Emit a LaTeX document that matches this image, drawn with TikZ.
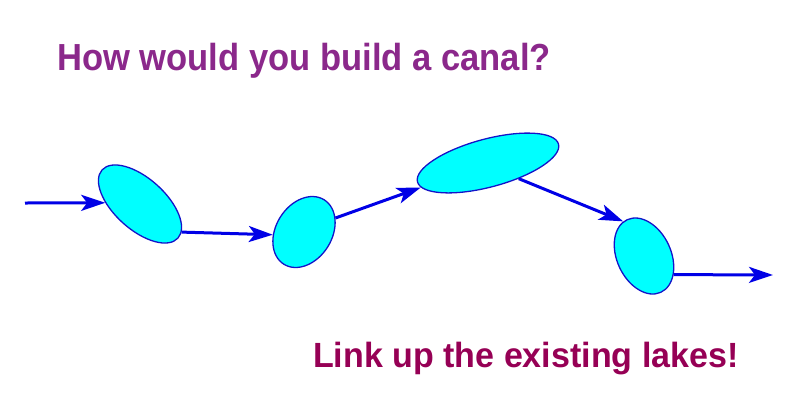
\documentclass[tikz,border=0pt]{standalone}
\usepackage{fontspec}
\setmainfont{Liberation Sans}
\usetikzlibrary{shapes.geometric,arrows.meta}
\definecolor{lakefill}{RGB}{0,255,255}
\definecolor{lakeline}{RGB}{20,20,200}
\definecolor{flow}{RGB}{0,0,230}
\definecolor{titlecol}{RGB}{139,40,139}
\definecolor{answercol}{RGB}{150,0,85}
\tikzset{
  lake/.style={ellipse, draw=lakeline, fill=lakefill, line width=1.3pt, inner sep=0pt},
  flowarrow/.style={draw=flow, line width=3pt, -{Stealth[length=24pt,width=16pt,inset=6pt]}},
  heading/.style={font=\fontsize{37.7}{40}\selectfont\bfseries, text=titlecol, inner sep=0pt, xscale=0.917},
  answer/.style={font=\fontsize{35}{38}\selectfont\bfseries, text=answercol, inner sep=0pt, xscale=0.972}
}
\begin{document}
\begin{tikzpicture}[x=1pt,y=1pt]
\useasboundingbox (0,0) rectangle (800,-408);
\node[lake, minimum width=102pt, minimum height=51pt, rotate=-42] (e1) at (140,-204) {};
\node[lake, minimum width=76pt, minimum height=56pt, rotate=58] (e2) at (304,-232) {};
\node[lake, minimum width=146pt, minimum height=48pt, rotate=15] (e3) at (488,-163) {};
\node[lake, minimum width=80pt, minimum height=54pt, rotate=-65] (e4) at (644,-256) {};
\coordinate (in) at (25,-203);
\coordinate (out) at (773,-275);
\draw[flowarrow] (in) -- (e1.220);
\draw[flowarrow] (e1.8) -- (e2.127);
\draw[flowarrow] (e2.-34) -- (e3.185);
\draw[flowarrow] (e3.-42) -- (e4.186);
\draw[flowarrow] (e4.33) -- (out);
\node[heading, anchor=base west] (q) at (57,-70) {How would you build a canal?};
\node[answer, anchor=base west] (a) at (313,-367) {Link up the existing lakes!};
\end{tikzpicture}
\end{document}
